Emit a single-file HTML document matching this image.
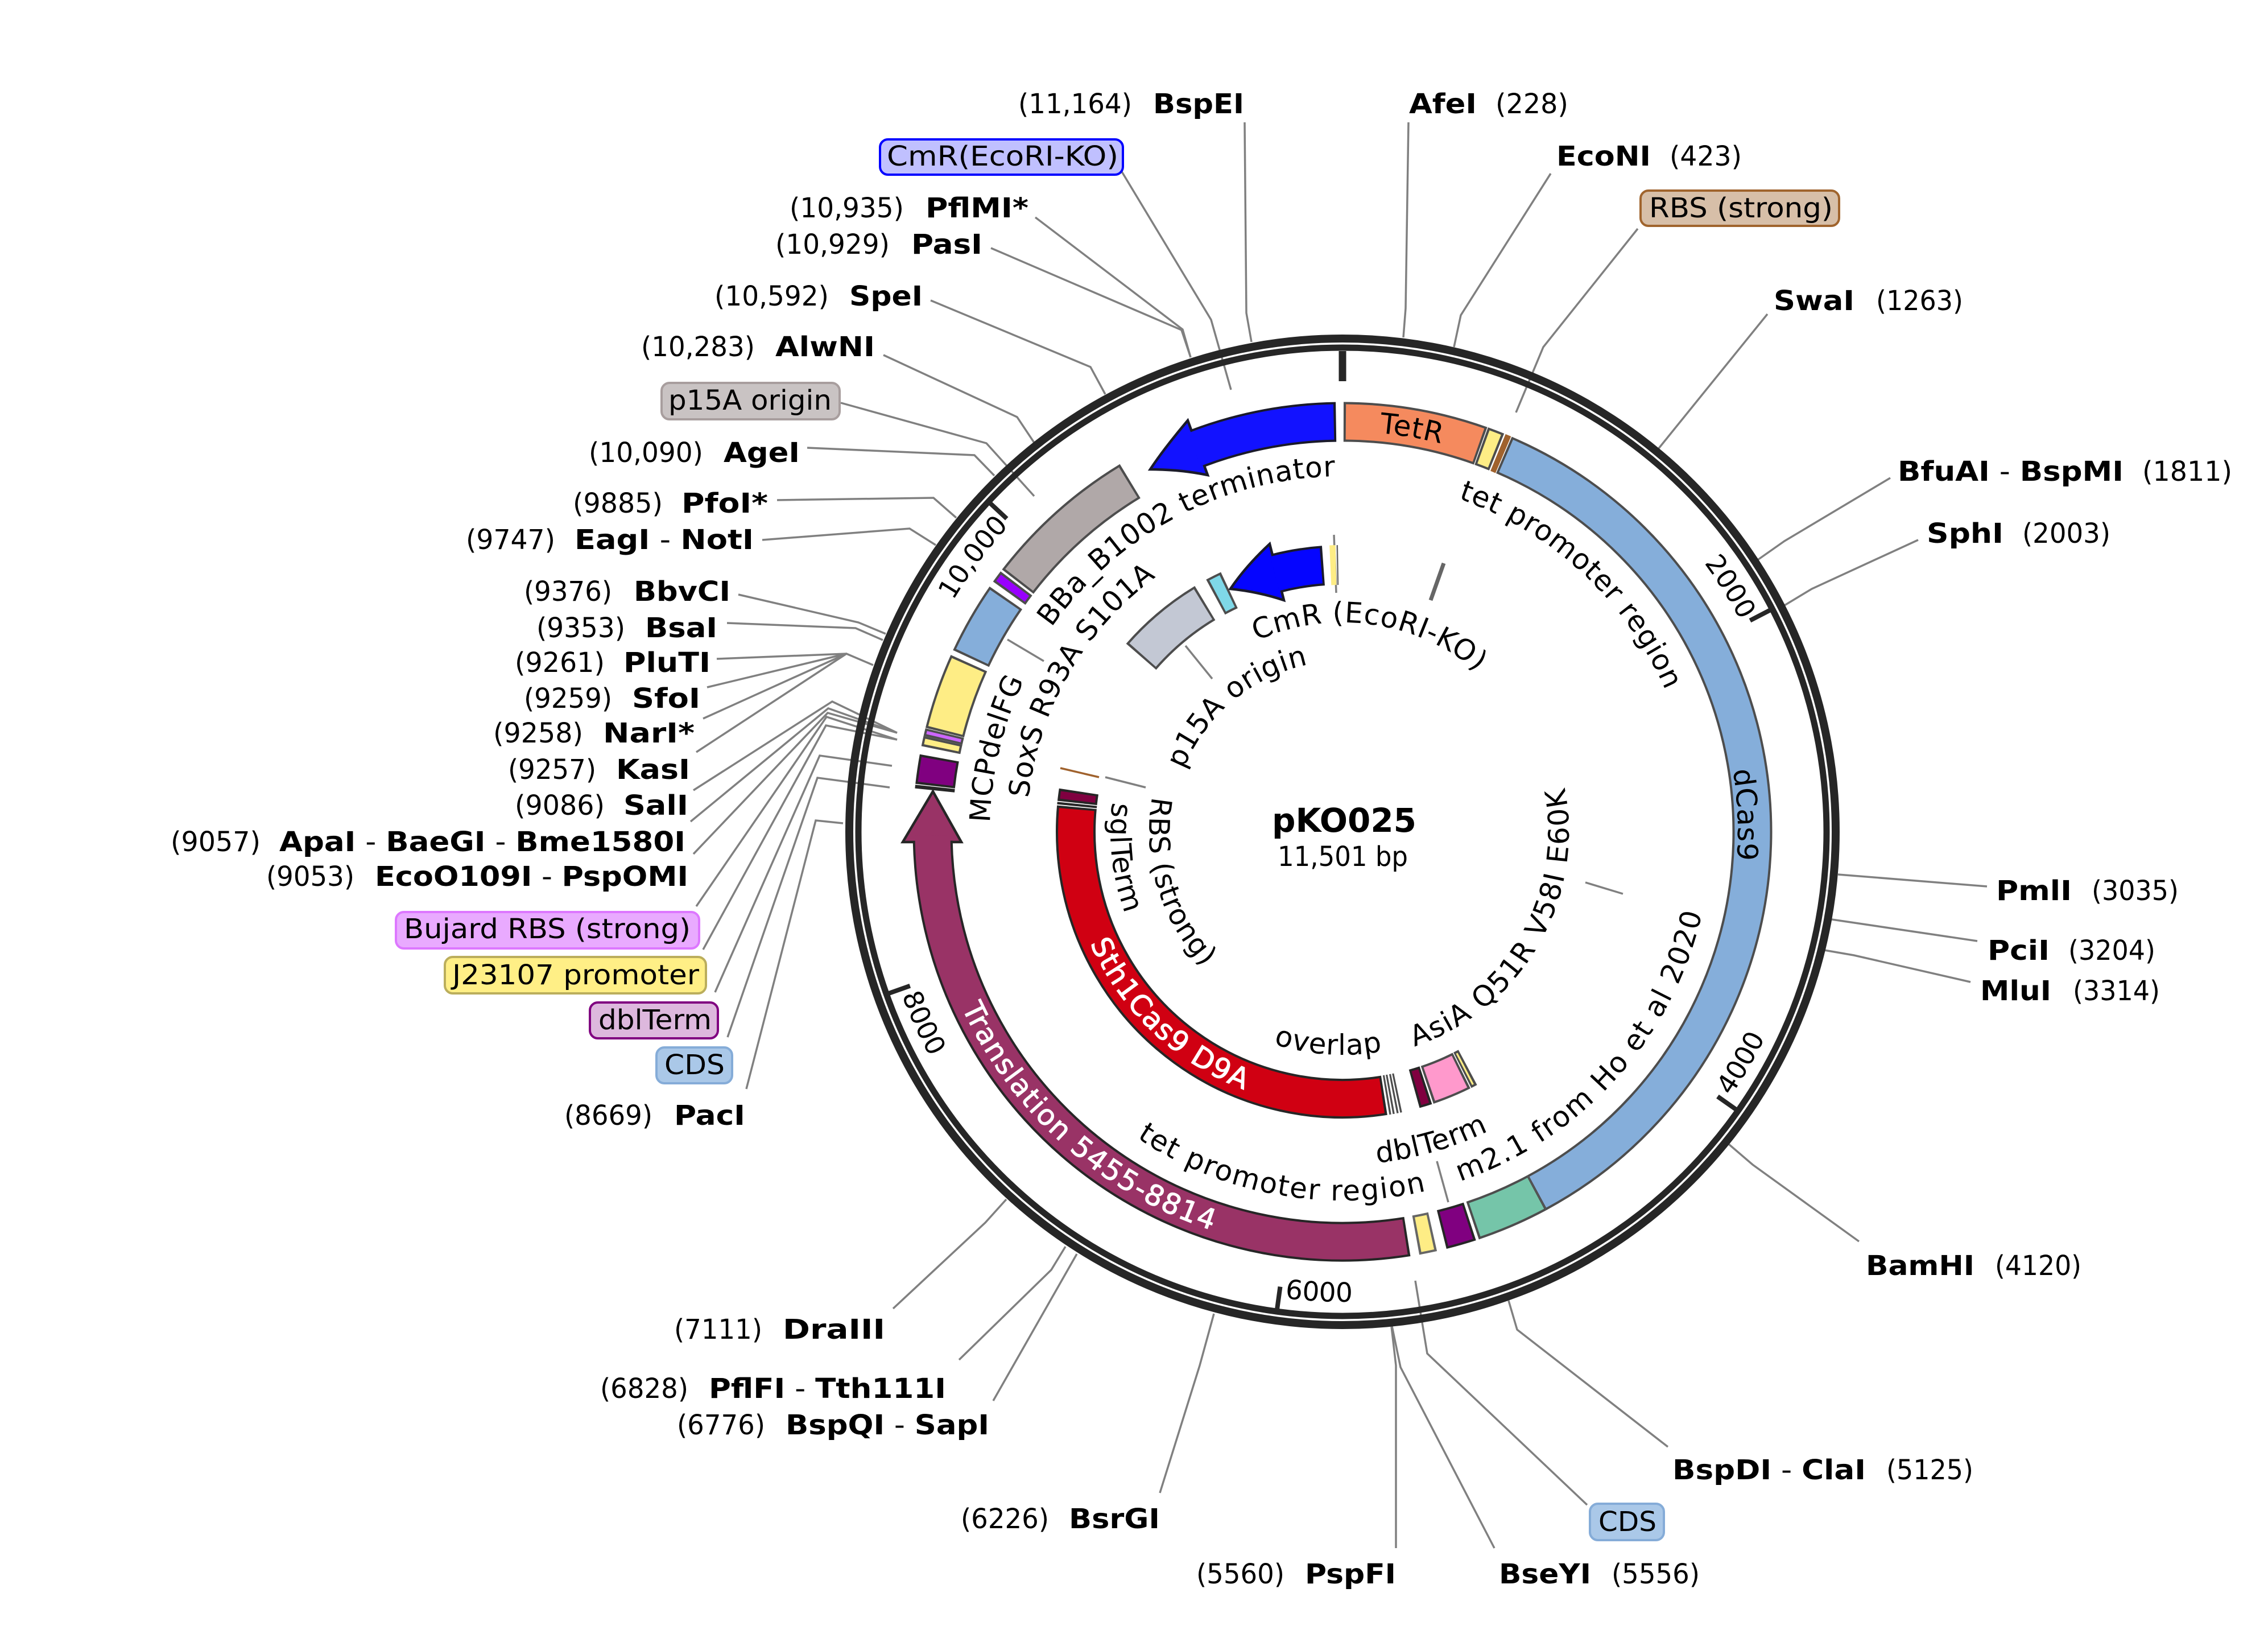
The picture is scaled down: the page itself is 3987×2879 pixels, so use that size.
<!DOCTYPE html>
<html><head><meta charset="utf-8"><title>pKO025</title>
<style>
html,body{margin:0;padding:0;background:#fff}
svg{display:block}
text{font-family:"DejaVu Sans","Liberation Sans",sans-serif;font-size:48px;fill:#000}
.b{font-weight:bold}
.l polyline{fill:none;stroke:#808080;stroke-width:3.5}
.f circle{fill:none}
.o circle{stroke-width:70}
.i circle{stroke-width:62}
.t text{text-anchor:middle;font-size:50px;letter-spacing:1px}
.t text.w{letter-spacing:2.2px}
.t text.k{font-size:47px;letter-spacing:0}
</style></head>
<body>
<svg xmlns="http://www.w3.org/2000/svg" width="3987" height="2879" viewBox="0 0 3987 2879">
<rect width="3987" height="2879" fill="#fff"/>
<defs>
<path id="c704" d="M0,704A704,704 0 1 1 0,-704A704,704 0 1 1 0,704"/>
<path id="c695" d="M0,695A695,695 0 1 1 0,-695A695,695 0 1 1 0,695"/>
<path id="c625" d="M0,625A625,625 0 1 1 0,-625A625,625 0 1 1 0,625"/>
<path id="c620" d="M0,620A620,620 0 1 1 0,-620A620,620 0 1 1 0,620"/>
<path id="c555" d="M0,555A555,555 0 1 1 0,-555A555,555 0 1 1 0,555"/>
<path id="c368" d="M0,368A368,368 0 1 1 0,-368A368,368 0 1 1 0,368"/>
<path id="c300" d="M0,300A300,300 0 1 1 0,-300A300,300 0 1 1 0,300"/>
<path id="c792" d="M0,792A792,792 0 1 1 0,-792A792,792 0 1 1 0,792"/>
<path id="c796" d="M0,796A796,796 0 1 1 0,-796A796,796 0 1 1 0,796"/>
<path id="a340" d="M0,-340A340,340 0 1 0 0,340A340,340 0 1 0 0,-340"/>
<path id="a408" d="M0,-408A408,408 0 1 0 0,408A408,408 0 1 0 0,-408"/>
<path id="a485" d="M0,-485A485,485 0 1 0 0,485A485,485 0 1 0 0,-485"/>
<path id="a392" d="M0,-392A392,392 0 1 0 0,392A392,392 0 1 0 0,-392"/>
<path id="a398" d="M0,-398A398,398 0 1 0 0,398A398,398 0 1 0 0,-398"/>
<path id="a648" d="M0,-648A648,648 0 1 0 0,648A648,648 0 1 0 0,-648"/>
<path id="a585" d="M0,-585A585,585 0 1 0 0,585A585,585 0 1 0 0,-585"/>
<path id="a737" d="M0,-737A737,737 0 1 0 0,737A737,737 0 1 0 0,-737"/>
<path id="a826" d="M0,-826A826,826 0 1 0 0,826A826,826 0 1 0 0,-826"/>
</defs>

<!-- leaders -->
<g class="l">
<polyline points="2188,215 2191,550 2200,601"/>
<polyline points="2476,215 2471,542 2467,593"/>
<polyline points="2726,305 2568,554 2556,610"/>
<polyline points="2879,402 2713,610 2665,725"/>
<polyline points="3107,552 2916,788"/>
<polyline points="3323,840 3137,951 3090,984"/>
<polyline points="3372,949 3185,1035 3137,1064"/>
<polyline points="3493,1558 3231,1537"/>
<polyline points="3476,1654 3220,1616"/>
<polyline points="3464,1726 3259,1679 3207,1670"/>
<polyline points="3268,2182 3081,2047 3039,2011"/>
<polyline points="2932,2543 2667,2337 2652,2286"/>
<polyline points="2790,2645 2509,2379 2488,2251"/>
<polyline points="2627,2721 2462,2403 2447,2331"/>
<polyline points="2454,2721 2454,2400 2446,2331"/>
<polyline points="2039,2624 2109,2400 2134,2309"/>
<polyline points="1746,2462 1893,2204"/>
<polyline points="1686,2390 1848,2232 1873,2191"/>
<polyline points="1570,2300 1732,2149 1769,2108"/>
<polyline points="1312,1914 1434,1442 1482,1447"/>
<polyline points="1279,1823 1437,1367 1564,1384"/>
<polyline points="1257,1744 1441,1328 1568,1346"/>
<polyline points="1236,1669 1452,1275 1577,1300"/>
<polyline points="1224,1593 1453,1260 1577,1300"/>
<polyline points="1219,1501 1455,1253 1577,1288"/>
<polyline points="1214,1444 1456,1245 1577,1288"/>
<polyline points="1219,1389 1463,1233 1577,1288"/>
<polyline points="1224,1322 1488,1149 1535,1169"/>
<polyline points="1236,1263 1488,1149"/>
<polyline points="1243,1208 1488,1149"/>
<polyline points="1260,1158 1488,1149"/>
<polyline points="1278,1095 1504,1104 1552,1125"/>
<polyline points="1298,1045 1509,1094 1557,1114"/>
<polyline points="1340,949 1599,929 1645,958"/>
<polyline points="1366,879 1641,875 1681,910"/>
<polyline points="1419,787 1713,800 1748,836"/>
<polyline points="1478,708 1734,779 1818,872"/>
<polyline points="1553,624 1788,733 1818,778"/>
<polyline points="1636,528 1917,645 1943,693"/>
<polyline points="1742,436 2077,580 2093,628"/>
<polyline points="1820,382 2079,579 2093,628"/>
<polyline points="1971,300 2129,562 2164,685"/>
<polyline points="2345,940 2349,1042"/>
<polyline points="2787,1551 2853,1571"/>
<polyline points="1771,1124 1835,1162"/>
<polyline points="2084,1135 2131,1193"/>
<polyline points="1943,1366 2014,1384"/>
<polyline points="2526,2041 2546,2113"/>
<polyline points="2538,990 2515,1055" style="stroke:#666;stroke-width:7"/>
<polyline points="1864,1350 1932,1366" style="stroke:#A0622D"/>
</g>

<g transform="translate(2360,1462)">
<g fill="none" stroke="#262626">
<circle r="867" stroke-width="14"/>
<circle r="851" stroke-width="11"/>
</g>
<g fill="#262626">
<rect x="-6.5" y="-845" width="13" height="53"/>
<rect x="-4" y="-846" width="8" height="39" transform="rotate(62.6)"/>
<rect x="-4" y="-846" width="8" height="39" transform="rotate(125.2)"/>
<rect x="-4" y="-846" width="8" height="39" transform="rotate(187.8)"/>
<rect x="-4" y="-846" width="8" height="39" transform="rotate(250.4)"/>
<rect x="-4" y="-846" width="8" height="39" transform="rotate(313)"/>
</g>
</g>

<!-- outer ring features -->
<path d="M2088,739Q2045,790 2022,825Q2075,825 2123,835Z" fill="#1212ff" stroke="#1a1a2a" stroke-width="4.5" stroke-linejoin="miter"/>
<path d="M1587,1480L1640,1391L1690,1480Z" fill="#993366" stroke="#262626" stroke-width="4.5"/>
<path d="M2232,956Q2190,995 2163,1035Q2212,1040 2257,1055Z" fill="#0505ff" stroke="#1a1a2a" stroke-width="4.5"/>

<g transform="translate(2360,1462)" class="f">
<g class="o">
<circle r="720.5" pathLength="360" stroke="#1a1a2a" stroke-dasharray="19.8 720" transform="rotate(249.3)"/>
<circle r="720.5" pathLength="360" stroke="#4d4d4d" stroke-dasharray="19.55 720" transform="rotate(-89.85)"/>
<circle r="720.5" pathLength="360" stroke="#4d4d4d" stroke-dasharray="2.3 720" transform="rotate(-70.2)"/>
<circle r="720.5" pathLength="360" stroke="#A0622D" stroke-dasharray="0.8 720" transform="rotate(-67.7)"/>
<circle r="720.5" pathLength="360" stroke="#4d4d4d" stroke-dasharray="128.5 720" transform="rotate(-66.8)"/>
<circle r="720.5" pathLength="360" stroke="#4d4d4d" stroke-dasharray="9.8 720" transform="rotate(61.7)"/>
<circle r="720.5" pathLength="360" stroke="#262626" stroke-dasharray="4.1 720" transform="rotate(71.9)"/>
<circle r="720.5" pathLength="360" stroke="#666" stroke-dasharray="2.4 720" transform="rotate(77.3)"/>
<circle r="720.5" pathLength="360" stroke="#262626" stroke-dasharray="97.8 720" transform="rotate(80.9)"/>
<circle r="720.5" pathLength="360" stroke="#262626" stroke-dasharray="0.5 720" transform="rotate(185.8)"/>
<circle r="720.5" pathLength="360" stroke="#262626" stroke-dasharray="4 720" transform="rotate(186.4)"/>
<circle r="720.5" pathLength="360" stroke="#4d4d4d" stroke-dasharray="1.4 720" transform="rotate(191.5)"/>
<circle r="720.5" pathLength="360" stroke="#4d4d4d" stroke-dasharray="1.05 720" transform="rotate(192.9)"/>
<circle r="720.5" pathLength="360" stroke="#4d4d4d" stroke-dasharray="10.3 720" transform="rotate(194)"/>
<circle r="720.5" pathLength="360" stroke="#4d4d4d" stroke-dasharray="9.8 720" transform="rotate(205)"/>
<circle r="720.5" pathLength="360" stroke="#4d4d4d" stroke-dasharray="1.7 720" transform="rotate(215.6)"/>
<circle r="720.5" pathLength="360" stroke="#4d4d4d" stroke-dasharray="21.2 720" transform="rotate(217.6)"/>
</g>
<g class="i">
<circle r="720.5" pathLength="360" stroke="#1212ff" stroke-dasharray="19.98 720" transform="rotate(248.8)"/>
<circle r="720.5" pathLength="360" stroke="#F58A5E" stroke-dasharray="18.91 720" transform="rotate(-89.53)"/>
<circle r="720.5" pathLength="360" stroke="#FEED85" stroke-dasharray="1.66 720" transform="rotate(-69.88)"/>
<circle r="720.5" pathLength="360" stroke="#85AEDA" stroke-dasharray="128.02 720" transform="rotate(-66.48)"/>
<circle r="720.5" pathLength="360" stroke="#75C5A9" stroke-dasharray="9.32 720" transform="rotate(61.86)"/>
<circle r="720.5" pathLength="360" stroke="#800080" stroke-dasharray="3.46 720" transform="rotate(72.22)"/>
<circle r="720.5" pathLength="360" stroke="#FEED85" stroke-dasharray="1.76 720" transform="rotate(77.62)"/>
<circle r="720.5" pathLength="360" stroke="#993366" stroke-dasharray="98.28 720" transform="rotate(81.22)"/>
<circle r="720.5" pathLength="360" stroke="#800080" stroke-dasharray="3.36 720" transform="rotate(186.72)"/>
<circle r="720.5" pathLength="360" stroke="#FEED85" stroke-dasharray="0.76 720" transform="rotate(191.82)"/>
<circle r="720.5" pathLength="360" stroke="#CC66FF" stroke-dasharray="0.45 720" transform="rotate(193.2)"/>
<circle r="720.5" pathLength="360" stroke="#FEED85" stroke-dasharray="9.66 720" transform="rotate(194.32)"/>
<circle r="720.5" pathLength="360" stroke="#85AEDA" stroke-dasharray="9.16 720" transform="rotate(205.32)"/>
<circle r="720.5" pathLength="360" stroke="#9900FF" stroke-dasharray="1.06 720" transform="rotate(215.92)"/>
<circle r="720.5" pathLength="360" stroke="#B0A8A8" stroke-dasharray="20.56 720" transform="rotate(217.92)"/>
</g>
<!-- inner ring features -->
<g class="o">
<circle r="469" pathLength="360" stroke="#1a1a2a" stroke-dasharray="10.1 720" transform="rotate(255.8)"/>
<circle r="469" pathLength="360" stroke="#FEED85" stroke-dasharray="1.2 720" transform="rotate(267.4)"/>
<circle r="469" pathLength="360" stroke="#666" stroke-dasharray="0.3 720" transform="rotate(268.8)"/>
<circle r="469" pathLength="360" stroke="#4d4d4d" stroke-dasharray="3.3 720" transform="rotate(241.6)"/>
<circle r="469" pathLength="360" stroke="#4d4d4d" stroke-dasharray="18 720" transform="rotate(221)"/>
<circle r="469" pathLength="360" stroke="#262626" stroke-dasharray="2.5 720" transform="rotate(186.2)"/>
<circle r="469" pathLength="360" stroke="#262626" stroke-dasharray="0.5 720" transform="rotate(185.5)"/>
<circle r="469" pathLength="360" stroke="#262626" stroke-dasharray="104.3 720" transform="rotate(81)"/>
<circle r="469" pathLength="360" stroke="#4d4d4d" stroke-dasharray="0.4 720" transform="rotate(80.2)"/>
<circle r="469" pathLength="360" stroke="#4d4d4d" stroke-dasharray="0.4 720" transform="rotate(79.5)"/>
<circle r="469" pathLength="360" stroke="#4d4d4d" stroke-dasharray="0.4 720" transform="rotate(78.7)"/>
<circle r="469" pathLength="360" stroke="#4d4d4d" stroke-dasharray="0.4 720" transform="rotate(78)"/>
<circle r="469" pathLength="360" stroke="#262626" stroke-dasharray="2.6 720" transform="rotate(71.8)"/>
<circle r="469" pathLength="360" stroke="#4d4d4d" stroke-dasharray="8 720" transform="rotate(63.5)"/>
<circle r="469" pathLength="360" stroke="#4d4d4d" stroke-dasharray="1.3 720" transform="rotate(62)"/>
</g>
<g class="i">
<circle r="469" pathLength="360" stroke="#0505ff" stroke-dasharray="10.11 720" transform="rotate(255.3)"/>
<circle r="469" pathLength="360" stroke="#7FD8E8" stroke-dasharray="2.32 720" transform="rotate(242.09)"/>
<circle r="469" pathLength="360" stroke="#C3C8D4" stroke-dasharray="17.02 720" transform="rotate(221.49)"/>
<circle r="469" pathLength="360" stroke="#800040" stroke-dasharray="1.52 720" transform="rotate(186.69)"/>
<circle r="469" pathLength="360" stroke="#D00012" stroke-dasharray="103.32 720" transform="rotate(81.49)"/>
<circle r="469" pathLength="360" stroke="#800040" stroke-dasharray="1.62 720" transform="rotate(72.29)"/>
<circle r="469" pathLength="360" stroke="#FF99CC" stroke-dasharray="7.02 720" transform="rotate(63.99)"/>
<circle r="469" pathLength="360" stroke="#FEED85" stroke-dasharray="0.4 720" transform="rotate(62.49)"/>
</g>
</g>

<!-- curved labels -->
<g transform="translate(2360,1462)" class="t">
<text transform="rotate(9.8)"><textPath href="#c704" startOffset="50%">TetR</textPath></text>
<text transform="rotate(87.6)"><textPath href="#c695" startOffset="50%">dCas9</textPath></text>
<text transform="rotate(-28)"><textPath href="#c625" startOffset="50%">BBa_B1002 terminator</textPath></text>
<text transform="rotate(42.8)"><textPath href="#c620" startOffset="50%">tet promoter region</textPath></text>
<text transform="rotate(-76.5)"><textPath href="#c620" startOffset="50%">MCPdelFG</textPath></text>
<text transform="rotate(-60)"><textPath href="#c555" startOffset="50%">SoxS R93A S101A</textPath></text>
<text transform="rotate(8)"><textPath href="#c368" startOffset="50%">CmR (EcoRI-KO)</textPath></text>
<text transform="rotate(-40)"><textPath href="#c300" startOffset="50%">p15A origin</textPath></text>
<text class="k" transform="rotate(57.7)"><textPath href="#c792" startOffset="50%">2000</textPath></text>
<text class="k" transform="rotate(-53.4)"><textPath href="#c796" startOffset="50%">10,000</textPath></text>
<text transform="rotate(73)"><textPath href="#a340" startOffset="50%">RBS (strong)</textPath></text>
<text transform="rotate(83.3)"><textPath href="#a408" startOffset="50%">sglTerm</textPath></text>
<text class="w" transform="rotate(43.4)" style="fill:#fff;stroke:#fff;stroke-width:1.2"><textPath href="#a485" startOffset="50%">Sth1Cas9 D9A</textPath></text>
<text transform="rotate(3.8)"><textPath href="#a392" startOffset="50%">overlap</textPath></text>
<text class="w" transform="rotate(-60)"><textPath href="#a398" startOffset="50%">AsiA Q51R V58I E60K</textPath></text>
<text class="w" transform="rotate(-48)"><textPath href="#a648" startOffset="50%">m2.1 from Ho et al 2020</textPath></text>
<text class="w" transform="rotate(10.3)"><textPath href="#a648" startOffset="50%">tet promoter region</textPath></text>
<text transform="rotate(-16)"><textPath href="#a585" startOffset="50%">dblTerm</textPath></text>
<text class="w" transform="rotate(41.6)" style="fill:#fff;stroke:#fff;stroke-width:1"><textPath href="#a737" startOffset="50%">Translation 5455-8814</textPath></text>
<text class="k" transform="rotate(-59.9)"><textPath href="#a826" startOffset="50%">4000</textPath></text>
<text class="k" transform="rotate(2.9)"><textPath href="#a826" startOffset="50%">6000</textPath></text>
<text class="k" transform="rotate(65.5)"><textPath href="#a826" startOffset="50%">8000</textPath></text>
</g>

<!-- center -->
<text x="2236" y="1462" class="b" style="font-size:58px" textLength="254" lengthAdjust="spacingAndGlyphs">pKO025</text>
<text x="2246" y="1522" textLength="229" lengthAdjust="spacingAndGlyphs">11,501 bp</text>

<!-- boxes -->
<g stroke-width="4">
<rect x="1547" y="245" width="427" height="62" rx="14" fill="#C0C0FF" stroke="#0000FF"/>
<rect x="2884" y="335" width="349" height="62" rx="14" fill="#D7BFA8" stroke="#A0642D"/>
<rect x="1163" y="673" width="313" height="64" rx="14" fill="#C9C3C3" stroke="#A89E9E"/>
<rect x="696" y="1603" width="533" height="64" rx="14" fill="#E9AAFF" stroke="#DD77FF"/>
<rect x="782" y="1682" width="459" height="64" rx="14" fill="#FFEF86" stroke="#BBAE5C"/>
<rect x="1037" y="1762" width="225" height="63" rx="14" fill="#DDB8DD" stroke="#800080"/>
<rect x="1154" y="1841" width="133" height="63" rx="14" fill="#AAC8E8" stroke="#85ACD8"/>
<rect x="2795" y="2643" width="130" height="64" rx="14" fill="#AAC8E8" stroke="#85ACD8"/>
</g>
<g>
<text x="1559" y="291" textLength="407" lengthAdjust="spacingAndGlyphs">CmR(EcoRI-KO)</text>
<text x="2899" y="382" textLength="323" lengthAdjust="spacingAndGlyphs">RBS (strong)</text>
<text x="1175" y="720" textLength="287" lengthAdjust="spacingAndGlyphs">p15A origin</text>
<text x="710" y="1649" textLength="504" lengthAdjust="spacingAndGlyphs">Bujard RBS (strong)</text>
<text x="795" y="1730" textLength="434" lengthAdjust="spacingAndGlyphs">J23107 promoter</text>
<text x="1052" y="1809" textLength="199" lengthAdjust="spacingAndGlyphs">dblTerm</text>
<text x="1168" y="1888" textLength="106" lengthAdjust="spacingAndGlyphs">CDS</text>
<text x="2810" y="2691" textLength="102" lengthAdjust="spacingAndGlyphs">CDS</text>
</g>

<!-- site labels -->
<text x="1790" y="199" textLength="200" lengthAdjust="spacingAndGlyphs">(11,164)</text><text class="b" x="2027" y="199" textLength="160" lengthAdjust="spacingAndGlyphs">BspEI</text>
<text class="b" x="2477" y="199" textLength="119" lengthAdjust="spacingAndGlyphs">AfeI</text><text x="2629" y="199" textLength="128" lengthAdjust="spacingAndGlyphs">(228)</text>
<text class="b" x="2736" y="291" textLength="166" lengthAdjust="spacingAndGlyphs">EcoNI</text><text x="2935" y="291" textLength="127" lengthAdjust="spacingAndGlyphs">(423)</text>
<text class="b" x="3118" y="545" textLength="142" lengthAdjust="spacingAndGlyphs">SwaI</text><text x="3298" y="545" textLength="153" lengthAdjust="spacingAndGlyphs">(1263)</text>
<text x="3336" y="845" textLength="397" lengthAdjust="spacingAndGlyphs"><tspan class="b">BfuAI</tspan> - <tspan class="b">BspMI</tspan></text><text x="3766" y="845" textLength="158" lengthAdjust="spacingAndGlyphs">(1811)</text>
<text class="b" x="3387" y="954" textLength="135" lengthAdjust="spacingAndGlyphs">SphI</text><text x="3555" y="954" textLength="155" lengthAdjust="spacingAndGlyphs">(2003)</text>
<text class="b" x="3509" y="1582" textLength="133" lengthAdjust="spacingAndGlyphs">PmlI</text><text x="3677" y="1582" textLength="153" lengthAdjust="spacingAndGlyphs">(3035)</text>
<text class="b" x="3494" y="1687" textLength="109" lengthAdjust="spacingAndGlyphs">PciI</text><text x="3636" y="1687" textLength="153" lengthAdjust="spacingAndGlyphs">(3204)</text>
<text class="b" x="3481" y="1758" textLength="125" lengthAdjust="spacingAndGlyphs">MluI</text><text x="3644" y="1758" textLength="153" lengthAdjust="spacingAndGlyphs">(3314)</text>
<text class="b" x="3280" y="2241" textLength="191" lengthAdjust="spacingAndGlyphs">BamHI</text><text x="3507" y="2241" textLength="152" lengthAdjust="spacingAndGlyphs">(4120)</text>
<text x="2940" y="2600" textLength="340" lengthAdjust="spacingAndGlyphs"><tspan class="b">BspDI</tspan> - <tspan class="b">ClaI</tspan></text><text x="3316" y="2600" textLength="153" lengthAdjust="spacingAndGlyphs">(5125)</text>
<text class="b" x="2635" y="2783" textLength="162" lengthAdjust="spacingAndGlyphs">BseYI</text><text x="2833" y="2783" textLength="155" lengthAdjust="spacingAndGlyphs">(5556)</text>
<text x="2103" y="2783" textLength="155" lengthAdjust="spacingAndGlyphs">(5560)</text><text class="b" x="2294" y="2783" textLength="160" lengthAdjust="spacingAndGlyphs">PspFI</text>
<text x="1689" y="2686" textLength="155" lengthAdjust="spacingAndGlyphs">(6226)</text><text class="b" x="1879" y="2686" textLength="160" lengthAdjust="spacingAndGlyphs">BsrGI</text>
<text x="1190" y="2521" textLength="155" lengthAdjust="spacingAndGlyphs">(6776)</text><text x="1381" y="2521" textLength="358" lengthAdjust="spacingAndGlyphs"><tspan class="b">BspQI</tspan> - <tspan class="b">SapI</tspan></text>
<text x="1055" y="2457" textLength="155" lengthAdjust="spacingAndGlyphs">(6828)</text><text x="1246" y="2457" textLength="417" lengthAdjust="spacingAndGlyphs"><tspan class="b">PflFI</tspan> - <tspan class="b">Tth111I</tspan></text>
<text x="1185" y="2353" textLength="155" lengthAdjust="spacingAndGlyphs">(7111)</text><text class="b" x="1376" y="2353" textLength="180" lengthAdjust="spacingAndGlyphs">DraIII</text>
<text x="992" y="1977" textLength="155" lengthAdjust="spacingAndGlyphs">(8669)</text><text class="b" x="1185" y="1977" textLength="125" lengthAdjust="spacingAndGlyphs">PacI</text>
<text x="468" y="1557" textLength="155" lengthAdjust="spacingAndGlyphs">(9053)</text><text x="659" y="1557" textLength="551" lengthAdjust="spacingAndGlyphs"><tspan class="b">EcoO109I</tspan> - <tspan class="b">PspOMI</tspan></text>
<text x="300" y="1496" textLength="158" lengthAdjust="spacingAndGlyphs">(9057)</text><text x="491" y="1496" textLength="714" lengthAdjust="spacingAndGlyphs"><tspan class="b">ApaI</tspan> - <tspan class="b">BaeGI</tspan> - <tspan class="b">Bme1580I</tspan></text>
<text x="905" y="1432" textLength="158" lengthAdjust="spacingAndGlyphs">(9086)</text><text class="b" x="1096" y="1432" textLength="114" lengthAdjust="spacingAndGlyphs">SalI</text>
<text x="893" y="1369" textLength="155" lengthAdjust="spacingAndGlyphs">(9257)</text><text class="b" x="1083" y="1369" textLength="130" lengthAdjust="spacingAndGlyphs">KasI</text>
<text x="867" y="1305" textLength="158" lengthAdjust="spacingAndGlyphs">(9258)</text><text class="b" x="1060" y="1305" textLength="161" lengthAdjust="spacingAndGlyphs">NarI*</text>
<text x="921" y="1244" textLength="155" lengthAdjust="spacingAndGlyphs">(9259)</text><text class="b" x="1111" y="1244" textLength="120" lengthAdjust="spacingAndGlyphs">SfoI</text>
<text x="905" y="1181" textLength="158" lengthAdjust="spacingAndGlyphs">(9261)</text><text class="b" x="1096" y="1181" textLength="153" lengthAdjust="spacingAndGlyphs">PluTI</text>
<text x="943" y="1120" textLength="156" lengthAdjust="spacingAndGlyphs">(9353)</text><text class="b" x="1134" y="1120" textLength="127" lengthAdjust="spacingAndGlyphs">BsaI</text>
<text x="921" y="1056" textLength="155" lengthAdjust="spacingAndGlyphs">(9376)</text><text class="b" x="1114" y="1056" textLength="170" lengthAdjust="spacingAndGlyphs">BbvCI</text>
<text x="819" y="965" textLength="157" lengthAdjust="spacingAndGlyphs">(9747)</text><text x="1010" y="965" textLength="315" lengthAdjust="spacingAndGlyphs"><tspan class="b">EagI</tspan> - <tspan class="b">NotI</tspan></text>
<text x="1007" y="901" textLength="158" lengthAdjust="spacingAndGlyphs">(9885)</text><text class="b" x="1198" y="901" textLength="152" lengthAdjust="spacingAndGlyphs">PfoI*</text>
<text x="1035" y="812" textLength="201" lengthAdjust="spacingAndGlyphs">(10,090)</text><text class="b" x="1272" y="812" textLength="134" lengthAdjust="spacingAndGlyphs">AgeI</text>
<text x="1127" y="626" textLength="200" lengthAdjust="spacingAndGlyphs">(10,283)</text><text class="b" x="1363" y="626" textLength="175" lengthAdjust="spacingAndGlyphs">AlwNI</text>
<text x="1256" y="537" textLength="201" lengthAdjust="spacingAndGlyphs">(10,592)</text><text class="b" x="1493" y="537" textLength="129" lengthAdjust="spacingAndGlyphs">SpeI</text>
<text x="1363" y="446" textLength="201" lengthAdjust="spacingAndGlyphs">(10,929)</text><text class="b" x="1602" y="446" textLength="125" lengthAdjust="spacingAndGlyphs">PasI</text>
<text x="1388" y="382" textLength="201" lengthAdjust="spacingAndGlyphs">(10,935)</text><text class="b" x="1627" y="382" textLength="181" lengthAdjust="spacingAndGlyphs">PflMI*</text>
</svg>
</body></html>
